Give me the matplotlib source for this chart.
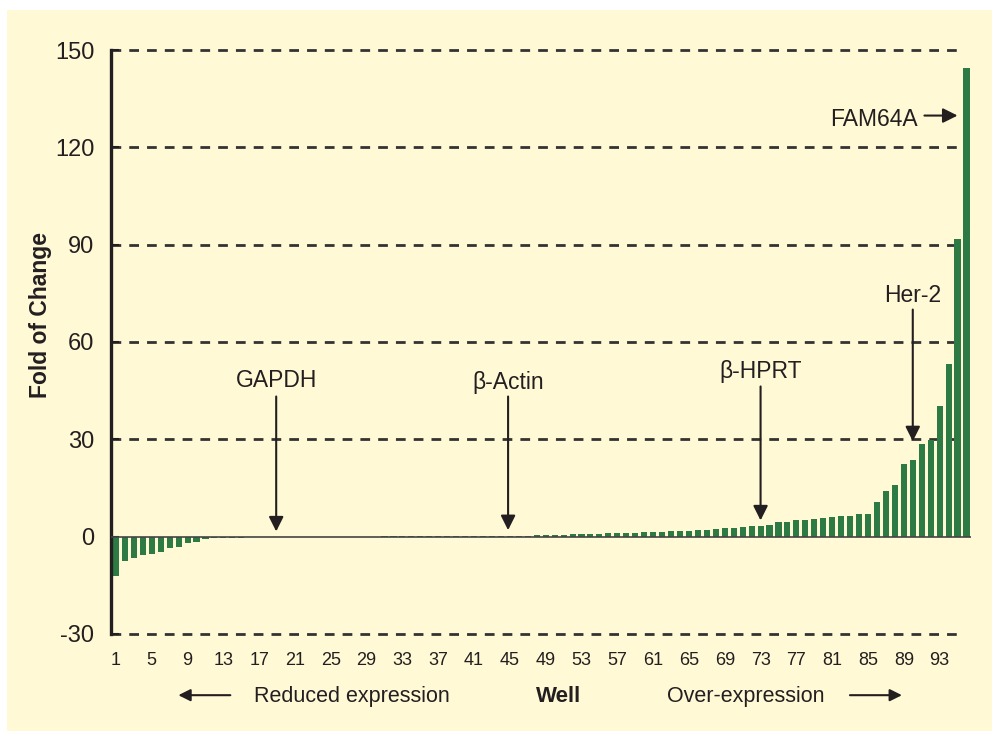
import numpy as np
import matplotlib
matplotlib.use('Agg')
import matplotlib.pyplot as plt
from matplotlib.patches import Rectangle, FancyArrowPatch

plt.rcParams['font.family'] = ['Liberation Sans', 'DejaVu Sans']

# Fold of change per well (wells 1..96)
wells = np.arange(1, 97)
fold_change = [
    -12.2, -7.6, -6.6, -5.8, -5.5, -4.7, -3.4, -3.2, -1.9, -1.6,
    -0.7, -0.5, -0.4, -0.35, -0.3, -0.25, -0.2, -0.15, -0.1, -0.05,
    -0.05, -0.05, -0.05, -0.05, -0.05, -0.05, -0.05, -0.05, -0.05, -0.05,
    0.05, 0.05, 0.05, 0.05, 0.08, 0.1, 0.1, 0.12, 0.14, 0.16,
    0.18, 0.2, 0.2, 0.22, 0.25, 0.3, 0.35, 0.4, 0.5, 0.55,
    0.6, 0.7, 0.75, 0.8, 0.9, 1.0, 1.05, 1.1, 1.2, 1.3,
    1.4, 1.5, 1.6, 1.7, 1.85, 2.0, 2.2, 2.4, 2.6, 2.8,
    3.0, 3.2, 3.4, 3.5, 4.4, 4.6, 5.2, 5.2, 5.3, 5.8,
    6.0, 6.3, 6.4, 7.0, 7.1, 10.6, 14.0, 15.8, 22.4, 23.5,
    28.6, 29.9, 40.2, 53.2, 91.7, 144.6,
]
y_ticks = [-30, 0, 30, 60, 90, 120, 150]
x_ticks = list(range(1, 94, 4))

# genes marked on the chart: (label, well, text baseline y, arrow start y, arrow tip y)
markers = [
    ('GAPDH', 18.9, 46.0, 43.2, 1.6),
    ('\u03b2-Actin', 44.8, 45.5, 43.2, 2.0),
    ('\u03b2-HPRT', 73.0, 49.0, 46.3, 5.0),
    ('Her-2', 90.0, 72.4, 70.0, 29.4),
]

bg = '#fff9d6'
green = '#2e7a45'
ink = '#231f20'

fig = plt.figure(figsize=(9.92, 7.31), dpi=100, facecolor=bg)
# white strip at top / left of the scan
fig.patches.append(Rectangle((0, 0.986), 1, 0.014, transform=fig.transFigure,
                             facecolor='white', edgecolor='none', zorder=0))
fig.patches.append(Rectangle((0, 0), 0.007, 1, transform=fig.transFigure,
                             facecolor='white', edgecolor='none', zorder=0))

ax = fig.add_axes([0.1119, 0.1283, 0.8669, 0.8077])
ax.set_facecolor(bg)
ax.set_xlim(0.45, 96.5)
ax.set_ylim(-31, 151)

# dashed grid lines
for yv in y_ticks:
    if yv != 0:
        ax.plot([0.45, 95.4], [yv, yv], color='#333333', lw=2,
                linestyle=(0, (3.5, 2.9)), zorder=1, solid_capstyle='butt')

ax.bar(wells, fold_change, width=0.68, color=green, zorder=2)
ax.axhline(0, color='#444444', lw=1.2, zorder=3)

for sp in ['top', 'right', 'bottom']:
    ax.spines[sp].set_visible(False)
ax.spines['left'].set_bounds(-30, 150)
ax.spines['left'].set_linewidth(2.4)
ax.spines['left'].set_color(ink)

ax.set_yticks(y_ticks)
ax.set_yticklabels([str(v) for v in y_ticks])
ax.tick_params(axis='y', direction='in', length=6, width=1.5, colors=ink,
               labelsize=17, pad=12)
ax.set_xticks(x_ticks)
ax.set_xticklabels([str(v) for v in x_ticks])
ax.tick_params(axis='x', length=0, labelsize=13, pad=11, colors=ink)

ax.set_ylabel('Fold of Change', fontsize=16.5, fontweight='bold', color=ink)
ax.yaxis.set_label_coords(-0.069, 0.546)

arrow_kw = dict(arrowstyle='-|>', lw=1.5, color=ink, mutation_scale=22,
                shrinkA=0, shrinkB=0)
for label, w, ty, y0, y1 in markers:
    ax.text(w, ty, label, ha='center', va='baseline', fontsize=16.5, color=ink)
    ax.annotate('', xy=(w, y1), xytext=(w, y0), arrowprops=arrow_kw)

ax.text(90.6, 126.6, 'FAM64A', ha='right', va='baseline', fontsize=16.5,
        color=ink)
ax.annotate('', xy=(95.0, 129.8), xytext=(91.3, 129.8), arrowprops=arrow_kw)

# bottom captions
fig.text(0.256, 0.047, 'Reduced expression', ha='left', va='center',
         fontsize=15.5, color=ink)
fig.text(0.563, 0.047, 'Well', ha='center', va='center', fontsize=16,
         fontweight='bold', color=ink)
fig.text(0.672, 0.047, 'Over-expression', ha='left', va='center',
         fontsize=15.5, color=ink)
fig.patches.append(FancyArrowPatch(
    (0.235, 0.049), (0.177, 0.049), transform=fig.transFigure,
    arrowstyle='-|>', lw=1.5, color=ink, mutation_scale=18))
fig.patches.append(FancyArrowPatch(
    (0.854, 0.049), (0.912, 0.049), transform=fig.transFigure,
    arrowstyle='-|>', lw=1.5, color=ink, mutation_scale=18))

fig.savefig('out.png', dpi=100, facecolor=bg)
